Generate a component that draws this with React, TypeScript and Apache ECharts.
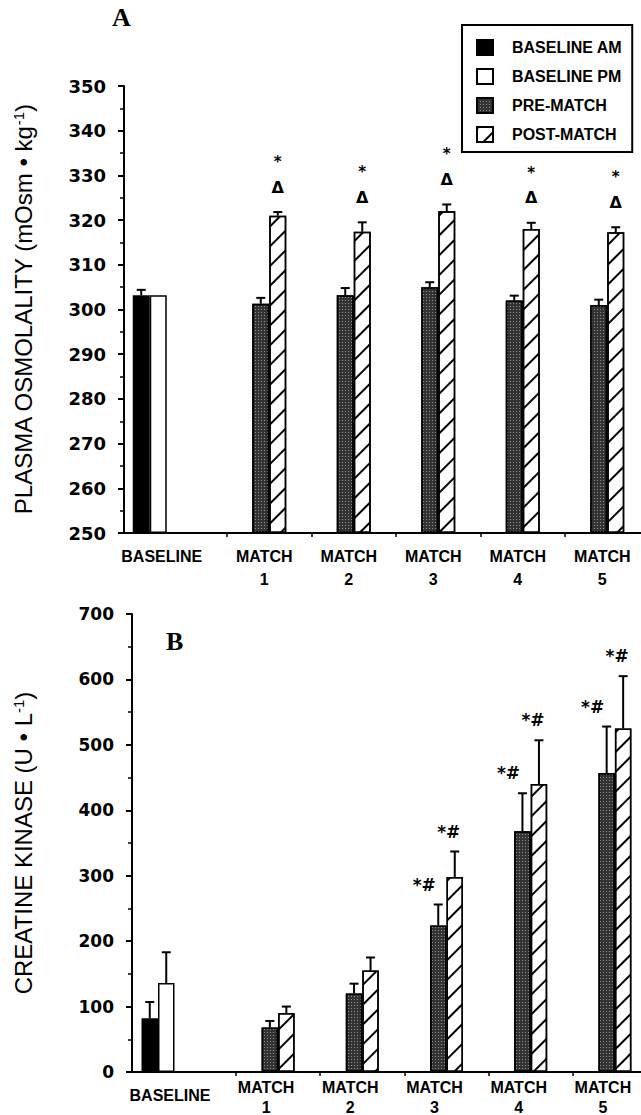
import React, { useEffect, useRef } from "react";
import * as echarts from "echarts";

// ---------- categories / legend ----------
const baselineCategories = ["BASELINE", ""];
const matchCategories = ["MATCH\n1", "MATCH\n2", "MATCH\n3", "MATCH\n4", "MATCH\n5"];
const legendNames = ["BASELINE AM", "BASELINE PM", "PRE-MATCH", "POST-MATCH"];

// ---------- Panel A: plasma osmolality ----------
const osmoRange = [250, 350];
const osmoStep = 10;
const osmoBaselineAM = [303.2, null];
const osmoBaselineAMUpper = [304.4, null];
const osmoBaselinePM = [303.2, null];
const osmoPre = [301.3, 303.2, 305.0, 302.0, 301.0];
const osmoPreUpper = [302.6, 304.8, 306.1, 303.1, 302.2];
const osmoPost = [321.0, 317.4, 322.0, 318.0, 317.3];
const osmoPostUpper = [321.8, 319.5, 323.5, 319.4, 318.4];
const osmoStars = ["*", "*", "*", "*", "*"];
const osmoDeltas = ["Δ", "Δ", "Δ", "Δ", "Δ"];

// ---------- Panel B: creatine kinase ----------
const ckRange = [0, 700];
const ckStep = 100;
const ckBaselineAM = [82, null];
const ckBaselineAMUpper = [107, null];
const ckBaselinePM = [136, null];
const ckBaselinePMUpper = [183, null];
const ckPre = [68, 120, 224, 368, 457];
const ckPreUpper = [78, 135, 256, 426, 528];
const ckPost = [90, 155, 298, 440, 525];
const ckPostUpper = [100, 175, 337, 507, 605];
const ckPreMarks = ["", "", "*#", "*#", "*#"];
const ckPostMarks = ["", "", "*#", "*#", "*#"];

// ---------- styles ----------
const BLACK = "#000";
const hatchDecal = {
  symbol: "rect",
  symbolSize: 1,
  dashArrayX: [1, 0],
  dashArrayY: [2, 12],
  rotation: -Math.PI / 4,
  color: BLACK,
};
const stippleDecal = {
  symbol: "rect",
  symbolSize: 1,
  dashArrayX: [1, 2],
  dashArrayY: [1, 2],
  color: "rgba(255,255,255,0.45)",
};
const styleAM = { color: BLACK, borderColor: BLACK, borderWidth: 1.5 };
const stylePM = { color: "#fff", borderColor: BLACK, borderWidth: 1.5 };
const stylePre = { color: "#333", borderColor: BLACK, borderWidth: 1.5, decal: stippleDecal };
const stylePost = { color: "#fff", borderColor: BLACK, borderWidth: 1.5, decal: hatchDecal };

const tickFont = { fontFamily: "DejaVu Sans", fontWeight: "bold", color: BLACK };
const catFont = { fontFamily: "Liberation Sans", fontWeight: "bold", color: BLACK, fontSize: 16 };

type Mark = { texts: string[]; dx: number; dy: number; fontSize: number; fontFamily: string };

function errorSeries(
  xAxisIndex: number,
  yAxisIndex: number,
  means: (number | null)[],
  uppers: (number | null)[],
  dx: number,
  marks: Mark[] = []
) {
  const data: number[][] = [];
  means.forEach((m, i) => {
    const u = uppers[i];
    if (m != null && u != null) data.push([i, m, u]);
  });
  return {
    type: "custom",
    xAxisIndex,
    yAxisIndex,
    silent: true,
    z: 5,
    clip: false,
    encode: { x: 0, y: [1, 2] },
    data,
    renderItem: (_params: any, api: any) => {
      const idx = api.value(0);
      const base = api.coord([idx, api.value(1)]);
      const top = api.coord([idx, api.value(2)]);
      const x = base[0] + dx;
      const children: any[] = [
        { type: "line", shape: { x1: x, y1: base[1], x2: x, y2: top[1] }, style: { stroke: BLACK, lineWidth: 2 } },
        { type: "line", shape: { x1: x - 4.5, y1: top[1], x2: x + 4.5, y2: top[1] }, style: { stroke: BLACK, lineWidth: 2 } },
      ];
      marks.forEach((mk) => {
        const t = mk.texts[idx];
        if (t) {
          children.push({
            type: "text",
            x: x + mk.dx,
            y: top[1] + mk.dy,
            style: {
              text: t,
              fill: BLACK,
              fontSize: mk.fontSize,
              fontWeight: "bold",
              fontFamily: mk.fontFamily,
              align: "center",
              verticalAlign: "middle",
            },
          });
        }
      });
      return { type: "group", children };
    },
  };
}

function yAxisDef(
  gridIndex: number,
  range: number[],
  step: number,
  show: boolean,
  name: string,
  nameGap: number,
  fontSize: number,
  startValue: number
) {
  return {
    type: "value",
    gridIndex,
    min: range[0],
    max: range[1],
    interval: step,
    show,
    startValue,
    name,
    nameLocation: "middle",
    nameGap,
    nameTextStyle: {
      fontFamily: "Liberation Sans",
      fontSize: 24,
      color: BLACK,
      rich: { sup: { fontFamily: "Liberation Sans", fontSize: 15, color: BLACK, verticalAlign: "top", padding: [0, 0, 10, 0] } },
    },
    axisLine: { show: true, lineStyle: { color: BLACK, width: 2 } },
    axisTick: { show: true, inside: false, length: 6, lineStyle: { color: BLACK, width: 2 } },
    minorTick: { show: true, splitNumber: 2, length: 4, lineStyle: { color: BLACK, width: 1.5 } },
    splitLine: { show: false },
    minorSplitLine: { show: false },
    axisLabel: { ...tickFont, fontSize, margin: 18 },
  };
}

function xAxisDef(gridIndex: number, data: string[], showTick: boolean, margin: number, lineHeight: number, padding: number[]) {
  return {
    type: "category",
    gridIndex,
    data,
    axisLine: { show: true, lineStyle: { color: BLACK, width: 2 } },
    axisTick: { show: showTick, interval: 0, length: 4, lineStyle: { color: BLACK, width: 1.5 } },
    splitLine: { show: false },
    axisLabel: { ...catFont, interval: 0, margin, lineHeight, padding },
  };
}

function buildOption() {
  const gridBase = { containLabel: false, outerBoundsMode: "none" };
  return {
    animation: false,
    backgroundColor: "#fff",
    grid: [
      { ...gridBase, left: 124, top: 86, width: 103, height: 447 },
      { ...gridBase, left: 227, top: 86, width: 422.5, height: 447 },
      { ...gridBase, left: 132, top: 614, width: 104, height: 458 },
      { ...gridBase, left: 236, top: 614, width: 421, height: 458 },
    ],
    xAxis: [
      xAxisDef(0, baselineCategories, false, 11.5, 23, [0, 0, 0, 24]),
      xAxisDef(1, matchCategories, true, 11.5, 23, [0, 10, 0, 0]),
      xAxisDef(2, baselineCategories, false, 13, 20, [0, 0, 0, 24]),
      xAxisDef(3, matchCategories, true, 5, 20, [0, 24, 0, 0]),
    ],
    yAxis: [
      yAxisDef(0, osmoRange, osmoStep, true, "PLASMA OSMOLALITY (mOsm • kg{sup|-1})", 88, 18, osmoRange[0]),
      yAxisDef(1, osmoRange, osmoStep, false, "", 0, 18, osmoRange[0]),
      yAxisDef(2, ckRange, ckStep, true, "CREATINE KINASE (U • L{sup|-1})", 96, 17, ckRange[0]),
      yAxisDef(3, ckRange, ckStep, false, "", 0, 17, ckRange[0]),
    ],
    legend: {
      data: legendNames,
      left: 462,
      top: 25,
      orient: "vertical",
      icon: "rect",
      itemWidth: 16,
      itemHeight: 15,
      itemGap: 12,
      padding: [14, 10, 9, 14],
      borderColor: BLACK,
      borderWidth: 2,
      backgroundColor: "#fff",
      selectedMode: false,
      textStyle: { fontFamily: "Liberation Sans", fontWeight: "bold", fontSize: 16, color: BLACK, padding: [0, 0, 0, 14] },
    },
    graphic: [
      { type: "text", left: 112, top: 4, style: { text: "A", font: 'bold 26px "Liberation Serif"', fill: BLACK } },
      { type: "text", left: 166, top: 628, style: { text: "B", font: 'bold 26px "Liberation Serif"', fill: BLACK } },
    ],
    series: [
      // Panel A baseline
      { type: "bar", name: legendNames[0], xAxisIndex: 0, yAxisIndex: 0, data: osmoBaselineAM, barWidth: 17, barGap: "0%", itemStyle: styleAM, clip: true },
      { type: "bar", name: legendNames[1], xAxisIndex: 0, yAxisIndex: 0, data: osmoBaselinePM, barWidth: 17, barGap: "0%", itemStyle: stylePM, clip: true },
      // Panel A matches
      { type: "bar", name: legendNames[2], xAxisIndex: 1, yAxisIndex: 1, data: osmoPre, barWidth: 17, barGap: "0%", itemStyle: stylePre, clip: true },
      { type: "bar", name: legendNames[3], xAxisIndex: 1, yAxisIndex: 1, data: osmoPost, barWidth: 17, barGap: "0%", itemStyle: stylePost, clip: true },
      // Panel B baseline
      { type: "bar", name: legendNames[0], xAxisIndex: 2, yAxisIndex: 2, data: ckBaselineAM, barWidth: 16.5, barGap: "0%", itemStyle: styleAM, clip: true },
      { type: "bar", name: legendNames[1], xAxisIndex: 2, yAxisIndex: 2, data: ckBaselinePM, barWidth: 16.5, barGap: "0%", itemStyle: stylePM, clip: true },
      // Panel B matches
      { type: "bar", name: legendNames[2], xAxisIndex: 3, yAxisIndex: 3, data: ckPre, barWidth: 16.5, barGap: "0%", itemStyle: stylePre, clip: true },
      { type: "bar", name: legendNames[3], xAxisIndex: 3, yAxisIndex: 3, data: ckPost, barWidth: 16.5, barGap: "0%", itemStyle: stylePost, clip: true },
      // error bars + significance marks
      errorSeries(0, 0, osmoBaselineAM, osmoBaselineAMUpper, -8.5),
      errorSeries(1, 1, osmoPre, osmoPreUpper, -8.5),
      errorSeries(1, 1, osmoPost, osmoPostUpper, 8.5, [
        { texts: osmoStars, dx: 0, dy: -50, fontSize: 15, fontFamily: "DejaVu Sans" },
        { texts: osmoDeltas, dx: 0, dy: -25, fontSize: 16, fontFamily: "DejaVu Sans" },
      ]),
      errorSeries(2, 2, ckBaselineAM, ckBaselineAMUpper, -8.25),
      errorSeries(2, 2, ckBaselinePM, ckBaselinePMUpper, 8.25),
      errorSeries(3, 3, ckPre, ckPreUpper, -8.25, [
        { texts: ckPreMarks, dx: -14, dy: -20, fontSize: 17, fontFamily: "DejaVu Sans" },
      ]),
      errorSeries(3, 3, ckPost, ckPostUpper, 8.25, [
        { texts: ckPostMarks, dx: -6, dy: -20, fontSize: 17, fontFamily: "DejaVu Sans" },
      ]),
    ],
  };
}

export default function App() {
  const ref = useRef<HTMLDivElement>(null);
  useEffect(() => {
    if (!ref.current) return;
    const chart = echarts.init(ref.current, null, { renderer: "svg" });
    chart.setOption(buildOption() as any);
    return () => chart.dispose();
  }, []);
  return (
    <div
      ref={ref}
      style={{ position: "absolute", left: 0, top: 0, width: 641, height: 1115, background: "#fff" }}
    />
  );
}
